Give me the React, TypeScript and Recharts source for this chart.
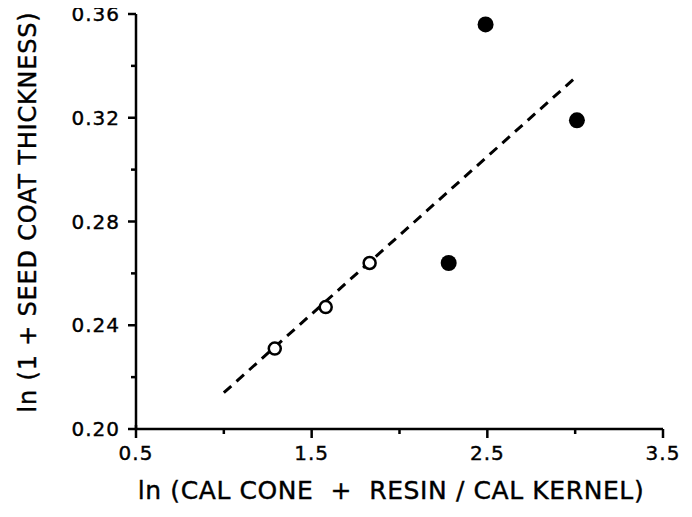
import React from 'react';
import { ScatterChart, Scatter, XAxis, YAxis, ReferenceLine, Label } from 'recharts';

// open circles
const openX = [1.29, 1.58, 1.83];
const openY = [0.231, 0.247, 0.264];
// filled circles
const filledX = [2.28, 2.49, 3.01];
const filledY = [0.264, 0.356, 0.319];
// dashed regression line end points
const fitX = [1.0, 3.01];
const fitY = [0.214, 0.336];

const xTicks = [0.5, 1.0, 1.5, 2.0, 2.5, 3.0, 3.5];
const xLabels = [0.5, 1.5, 2.5, 3.5];
const yTicks = [0.2, 0.22, 0.24, 0.26, 0.28, 0.3, 0.32, 0.34, 0.36];
const yLabels = [0.2, 0.24, 0.28, 0.32, 0.36];

const xTitle = 'ln (CAL CONE  +  RESIN / CAL KERNEL)';
const yTitle = 'ln (1 + SEED COAT THICKNESS)';

const FONT = '"DejaVu Sans", sans-serif';
const isIn = (list: number[], v: number) => list.some(t => Math.abs(t - v) < 1e-6);

const textStyle: React.CSSProperties = { whiteSpace: 'pre' };

const XTick = (props: any) => {
  const { x, y, payload } = props;
  const major = isIn(xLabels, payload.value);
  return (
    <g>
      <line x1={x} x2={x} y1={y - (payload.value === 0.5 ? 4 : 0)} y2={y + (major ? 9 : 5)} stroke="#000" strokeWidth={2.5} />
      {major && (
        <text x={x} y={y + 31} textAnchor="middle" fontFamily={FONT} fontSize={20} letterSpacing={1}
          fill="#000" stroke="#000" strokeWidth={0.4}>
          {payload.value.toFixed(1)}
        </text>
      )}
    </g>
  );
};

const YTick = (props: any) => {
  const { x, y, payload } = props;
  const major = isIn(yLabels, payload.value);
  return (
    <g>
      <line x1={x} x2={x - (major ? 8 : 5)} y1={y} y2={y} stroke="#000" strokeWidth={2.5} />
      {major && (
        <text x={x - 16} y={y + 7} textAnchor="end" fontFamily={FONT} fontSize={20} letterSpacing={1}
          fill="#000" stroke="#000" strokeWidth={0.4}>
          {payload.value.toFixed(2)}
        </text>
      )}
    </g>
  );
};

const openData = openX.map((x, i) => ({ x, y: openY[i] }));
const filledData = filledX.map((x, i) => ({ x, y: filledY[i] }));

export default function App() {
  return (
    <div style={{ width: 692, height: 517, margin: '-8px 0 0 -8px', background: '#fff' }}>
      <ScatterChart width={692} height={517} margin={{ top: 14, right: 29, bottom: 0, left: 0 }}>
        <XAxis
          type="number"
          dataKey="x"
          domain={[0.5, 3.5]}
          ticks={xTicks}
          interval={0}
          height={88}
          tickSize={0}
          tickMargin={0}
          tickLine={false}
          axisLine={{ stroke: '#000', strokeWidth: 2.5 }}
          tick={<XTick />}
        >
          <Label
            content={() => (
              <text x={391} y={499} textAnchor="middle" fontFamily={FONT} fontSize={25} letterSpacing={0.6}
                fill="#000" stroke="#000" strokeWidth={0.4} style={textStyle}>
                {xTitle}
              </text>
            )}
          />
        </XAxis>
        <YAxis
          type="number"
          dataKey="y"
          domain={[0.2, 0.36]}
          ticks={yTicks}
          interval={0}
          width={136}
          tickSize={0}
          tickMargin={0}
          tickLine={false}
          axisLine={{ stroke: '#000', strokeWidth: 2.5 }}
          tick={<YTick />}
        >
          <Label
            content={() => (
              <text
                x={28}
                y={212}
                transform="rotate(-90, 28, 212)"
                textAnchor="middle"
                dominantBaseline="central"
                fontFamily={FONT}
                fontSize={24}
                letterSpacing={0.8}
                fill="#000"
                stroke="#000"
                strokeWidth={0.4}
                style={textStyle}
              >
                {yTitle}
              </text>
            )}
          />
        </YAxis>
        <ReferenceLine
          segment={[
            { x: fitX[0], y: fitY[0] },
            { x: fitX[1], y: fitY[1] },
          ]}
          stroke="#000"
          strokeWidth={3}
          strokeDasharray="10 7"
        />
        <Scatter
          data={openData}
          isAnimationActive={false}
          shape={(p: any) => <circle cx={p.cx} cy={p.cy} r={6} fill="#fff" stroke="#000" strokeWidth={2.5} />}
        />
        <Scatter
          data={filledData}
          isAnimationActive={false}
          shape={(p: any) => <circle cx={p.cx} cy={p.cy} r={8} fill="#000" stroke="none" />}
        />
      </ScatterChart>
    </div>
  );
}
